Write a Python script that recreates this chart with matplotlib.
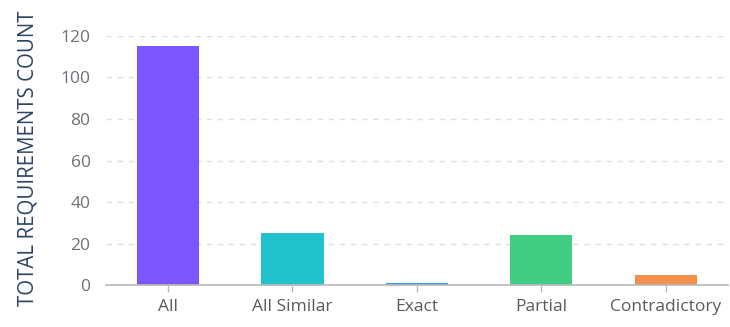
import matplotlib
matplotlib.use("Agg")
import matplotlib.pyplot as plt

categories = ["All", "All Similar", "Exact", "Partial", "Contradictory"]
counts = [115, 25, 1, 24, 5]
colors = ["#7b55fe", "#22c2cc", "#3a98e6", "#41cd83", "#f5914f"]
yticks = [0, 20, 40, 60, 80, 100, 120]

plt.rcParams["font.family"] = ["Open Sans", "DejaVu Sans"]

fig = plt.figure(figsize=(7.3, 3.27), dpi=100)
ax = fig.add_axes([0.145, 0.128, 0.852, 0.762])

x = range(len(categories))
ax.bar(x, counts, width=0.5, color=colors, zorder=3)

ax.set_xlim(-0.5, len(categories) - 0.5)
ax.set_ylim(0, 120)
ax.set_yticks(yticks)
ax.set_xticks(list(x))
ax.set_xticklabels(categories)

for y in yticks[1:]:
    ax.axhline(y, color="#dcdfe4", linestyle=(0, (4, 4)), linewidth=1, zorder=1)

for s in ["top", "right", "left"]:
    ax.spines[s].set_visible(False)
ax.spines["bottom"].set_color("#b8b8b8")
ax.spines["bottom"].set_linewidth(1.2)
ax.spines["bottom"].set_zorder(4)

ax.tick_params(axis="y", length=0, pad=11, labelsize=12.5, labelcolor="#6e7079")
ax.tick_params(axis="x", length=5, width=1, color="#b8b8b8", pad=5, labelsize=12.5, labelcolor="#5a5a5a")

ax.set_ylabel("TOTAL REQUIREMENTS COUNT", fontsize=14.8, color="#2d4466")
ax.yaxis.set_label_coords(-0.108, 0.51)

fig.savefig("out.png", dpi=100)
